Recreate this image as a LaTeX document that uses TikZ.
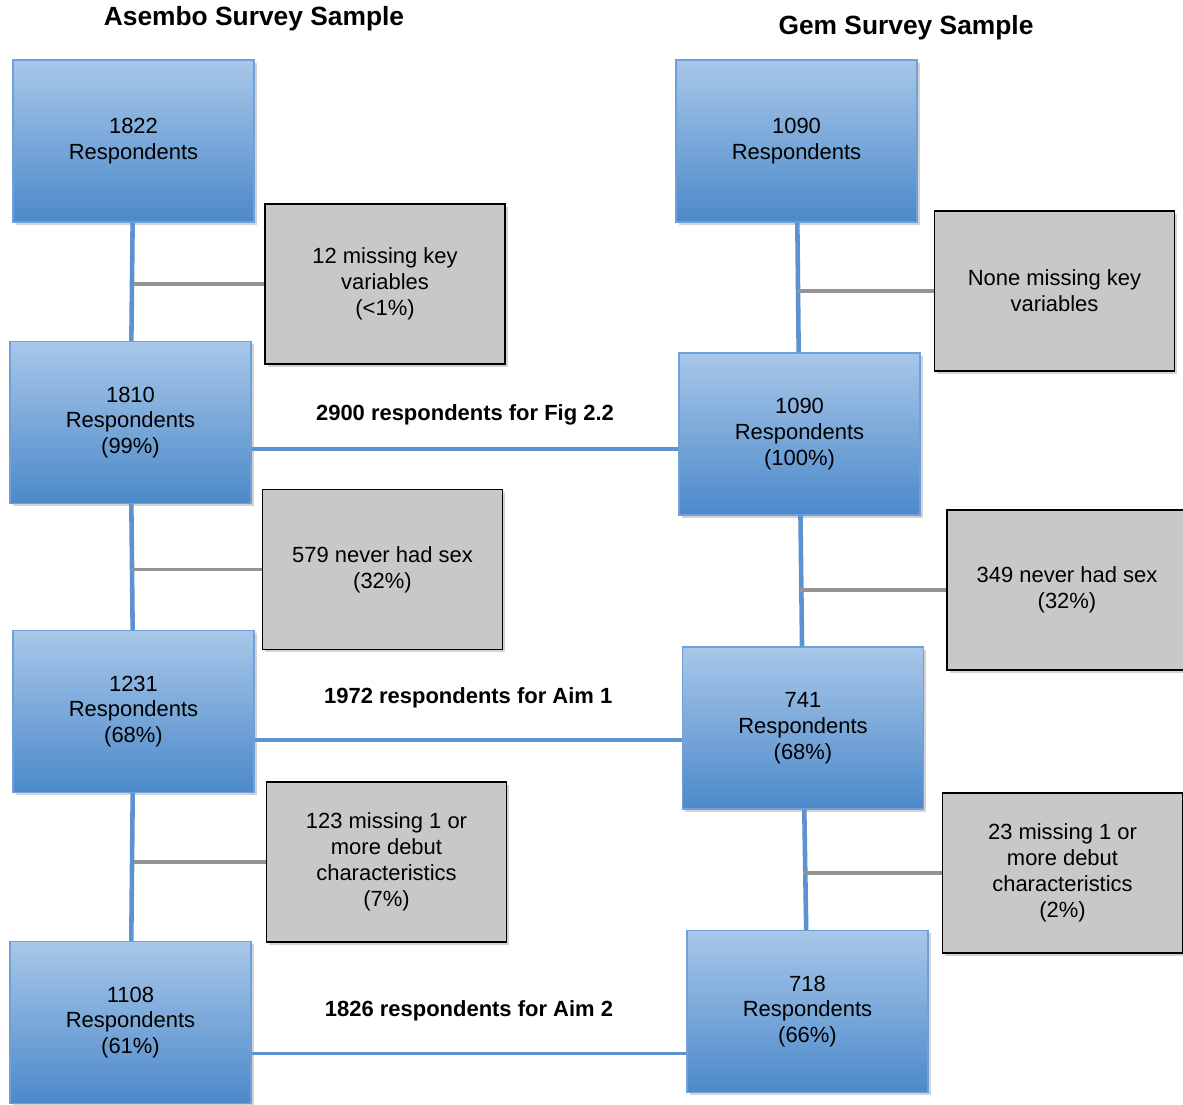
\documentclass[tikz,border=0pt]{standalone}
\usepackage{fontspec}
\setmainfont{Liberation Sans}
\usetikzlibrary{positioning, calc, shadows}
\definecolor{boxtop}{RGB}{168,199,233}
\definecolor{boxbottom}{RGB}{76,137,202}
\definecolor{boxline}{RGB}{112,160,216}
\definecolor{exgray}{RGB}{200,200,200}
\definecolor{linkblue}{RGB}{92,146,208}
\definecolor{exline}{RGB}{148,148,148}
\tikzset{x=0.02cm, y=-0.02cm, % one unit is one pixel of the layout
        every node/.style={ % text of all boxes and labels
            font=\fontsize{12.5}{14.7}\selectfont,
            align=center},
        sample/.style={ % blue boxes with the respondents left
            rectangle,
            draw=boxline, line width=0.8pt,
            top color=boxtop, bottom color=boxbottom,
            minimum width=4.82cm, minimum height=3.24cm,
            drop shadow={shadow xshift=1.5pt, shadow yshift=-1.5pt, opacity=0.35}},
        excluded/.style={ % grey boxes with the dropped respondents
            rectangle,
            draw=black, line width=0.8pt,
            fill=exgray,
            minimum width=4.8cm, minimum height=3.2cm,
            drop shadow={shadow xshift=1.5pt, shadow yshift=-1.5pt, opacity=0.35}},
        trunk/.style={draw=linkblue, line width=2.6pt},
        branch/.style={draw=exline, line width=2.2pt},
        link/.style={draw=linkblue, line width=2.2pt},
        title/.style={font=\fontsize{15}{18}\selectfont\bfseries},
        countlabel/.style={font=\fontsize{12.5}{15}\selectfont\bfseries}
        }

\begin{document}
\begin{tikzpicture}
    \useasboundingbox (0,0) rectangle (1183,1105);

    \node[title] (asembo) at (254,19) {Asembo Survey Sample};
    \node[title] (gem) at (906,28) {Gem Survey Sample};

    % Asembo column
    \node[sample] (a1) at (133.5,141) {1822\\Respondents};
    \node[sample] (a2) at (130.5,422.5) {1810\\Respondents\\(99\%)};
    \node[sample] (a3) at (133.5,711.5) {1231\\Respondents\\(68\%)};
    \node[sample] (a4) at (130.5,1022.5) {1108\\Respondents\\(61\%)};
    \node[excluded] (ax1) at (385,284) {12 missing key\\variables\\(<1\%)};
    \node[excluded] (ax2) at (382.5,569.5) {579 never had sex\\(32\%)};
    \node[excluded] (ax3) at (386.5,862) {123 missing 1 or\\more debut\\characteristics\\(7\%)};

    % Gem column
    \node[sample] (g1) at (796.5,141) {1090\\Respondents};
    \node[sample] (g2) at (799.5,434) {1090\\Respondents\\(100\%)};
    \node[sample] (g3) at (803,728) {741\\Respondents\\(68\%)};
    \node[sample] (g4) at (807.5,1011.5) {718\\Respondents\\(66\%)};
    \node[excluded] (gx1) at (1054.5,291) {None missing key\\variables};
    \node[excluded] (gx2) at (1067,590) {349 never had sex\\(32\%)};
    \node[excluded] (gx3) at (1062.5,873) {23 missing 1 or\\more debut\\characteristics\\(2\%)};

    \draw[trunk] (a1) -- (a2) -- (a3) -- (a4);
    \draw[trunk] (g1) -- (g2) -- (g3) -- (g4);

    \draw[branch] (ax1.west) -- (ax1.west -| a1.south);
    \draw[branch] (ax2.west) -- (ax2.west -| a2.south);
    \draw[branch] (ax3.west) -- (ax3.west -| a3.south);
    \draw[branch] (gx1.west) -- (gx1.west -| g1.south);
    \draw[branch] (gx2.west) -- (gx2.west -| g2.south);
    \draw[branch] (gx3.west) -- (gx3.west -| g3.south);

    \draw[link] ($(a2.north east)!0.66!(a2.south east)$) coordinate (s1)
        -- (s1 -| g2.west) node[countlabel, midway, above=0.32cm] {2900 respondents for Fig 2.2};
    \draw[link] ($(a3.north east)!0.675!(a3.south east)$) coordinate (s2)
        -- (s2 -| g3.west) node[countlabel, midway, above=0.48cm] {1972 respondents for Aim 1};
    \draw[link] ($(a4.north east)!0.69!(a4.south east)$) coordinate (s3)
        -- (s3 -| g4.west) node[countlabel, midway, above=0.5cm] {1826 respondents for Aim 2};
\end{tikzpicture}
\end{document}
